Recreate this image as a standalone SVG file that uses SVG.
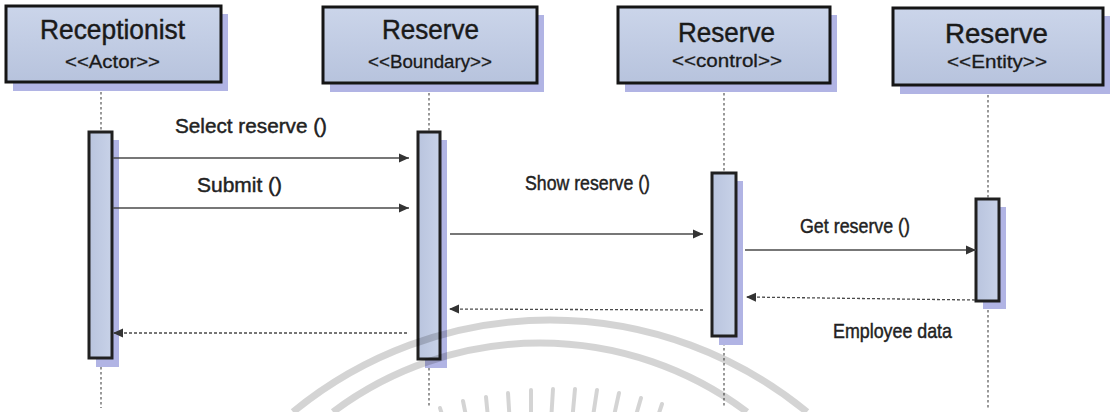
<svg xmlns="http://www.w3.org/2000/svg" width="1113" height="412" viewBox="0 0 1113 412">
  <defs>
    <linearGradient id="boxFill" x1="0" y1="0" x2="0" y2="1">
      <stop offset="0" stop-color="#cbd5ea"/>
      <stop offset="1" stop-color="#b7c3dd"/>
    </linearGradient>
    <linearGradient id="barFill" x1="0" y1="0" x2="1" y2="0">
      <stop offset="0" stop-color="#b9c4de"/>
      <stop offset="1" stop-color="#c8d2e8"/>
    </linearGradient>
    <marker id="arrow" markerUnits="userSpaceOnUse" markerWidth="10" markerHeight="10" viewBox="0 0 10 10" refX="10" refY="5" orient="auto">
      <path d="M0,0.5 L10,5 L0,9.5 z" fill="#333"/>
    </marker>
    <style>
      .shadow { fill: #b1b4e4; }
      .head { fill: url(#boxFill); stroke: #151515; stroke-width: 3; }
      .bar { fill: url(#barFill); stroke: #202020; stroke-width: 3; }
      .life { stroke: #555; stroke-width: 1.2; stroke-dasharray: 2.5 2.5; fill: none; }
      .call { stroke: #4a4a4a; stroke-width: 1.3; fill: none; marker-end: url(#arrow); }
      .reply { stroke: #4a4a4a; stroke-width: 1.3; fill: none; stroke-dasharray: 3 2; marker-end: url(#arrow); }
      text { font-family: "Liberation Sans", Arial, sans-serif; fill: #1a1a1a; stroke: #1a1a1a; stroke-width: 0.45; text-anchor: start; }
      .title { font-size: 27px; }
      .stereo { font-size: 18px; stroke-width: 0.3; }
      .msg { font-size: 21px; fill: #222; stroke: #222; }
      .mark { stroke: #000; stroke-opacity: 0.17; fill: none; }
    </style>
  </defs>

  <rect width="1113" height="412" fill="#ffffff"/>

  <!-- lifelines -->
  <g id="lifelines">
    <line class="life" x1="101" y1="82" x2="101" y2="408"/>
    <line class="life" x1="429" y1="83" x2="429" y2="408"/>
    <line class="life" x1="724" y1="83" x2="724" y2="408"/>
    <line class="life" x1="988" y1="85" x2="988" y2="410"/>
  </g>

  <!-- object heads with their activation bars -->
  <g id="receptionist">
    <rect class="shadow" x="13" y="14" width="215" height="77"/>
    <rect class="head" x="6" y="6" width="215" height="76"/>
    <text class="title" x="40" y="39" font-size="28" textLength="145" lengthAdjust="spacingAndGlyphs">Receptionist</text>
    <text class="stereo" x="65" y="68" textLength="95" lengthAdjust="spacingAndGlyphs">&lt;&lt;Actor&gt;&gt;</text>
    <rect class="shadow" x="96" y="140" width="23" height="227"/>
    <rect class="bar" x="89" y="132" width="23" height="226"/>
  </g>

  <g id="reserve-boundary">
    <rect class="shadow" x="330" y="15" width="214" height="77"/>
    <rect class="head" x="323" y="7" width="214" height="76"/>
    <text class="title" x="382" y="39" textLength="97" lengthAdjust="spacingAndGlyphs">Reserve</text>
    <text class="stereo" x="368" y="68" textLength="124" lengthAdjust="spacingAndGlyphs">&lt;&lt;Boundary&gt;&gt;</text>
    <rect class="shadow" x="425" y="140" width="22" height="228"/>
    <rect class="bar" x="418" y="132" width="22" height="227"/>
  </g>

  <g id="reserve-control">
    <rect class="shadow" x="625" y="15" width="212" height="77"/>
    <rect class="head" x="618" y="7" width="212" height="76"/>
    <text class="title" x="678" y="42" textLength="97" lengthAdjust="spacingAndGlyphs">Reserve</text>
    <text class="stereo" x="672" y="67" textLength="110" lengthAdjust="spacingAndGlyphs">&lt;&lt;control&gt;&gt;</text>
    <rect class="shadow" x="719" y="181" width="24" height="164"/>
    <rect class="bar" x="712" y="173" width="24" height="163"/>
  </g>

  <g id="reserve-entity">
    <rect class="shadow" x="900" y="16" width="210" height="78"/>
    <rect class="head" x="893" y="8" width="210" height="77"/>
    <text class="title" x="945" y="43" textLength="103" lengthAdjust="spacingAndGlyphs">Reserve</text>
    <text class="stereo" x="947" y="68" textLength="100" lengthAdjust="spacingAndGlyphs">&lt;&lt;Entity&gt;&gt;</text>
    <rect class="shadow" x="983" y="207" width="23" height="102"/>
    <rect class="bar" x="976" y="199" width="23" height="102"/>
  </g>

  <!-- messages -->
  <g id="connectors">
    <line class="call" x1="113" y1="158" x2="409" y2="158"/>
    <line class="call" x1="113" y1="208" x2="409" y2="208"/>
    <line class="call" x1="450" y1="234" x2="703" y2="234"/>
    <line class="call" x1="745" y1="250" x2="976" y2="250"/>
    <line class="reply" x1="975" y1="300" x2="746" y2="297"/>
    <line class="reply" x1="703" y1="310" x2="449" y2="309"/>
    <line class="reply" x1="407" y1="333" x2="113" y2="333"/>

    <text class="msg" x="175" y="133" font-size="22" textLength="152" lengthAdjust="spacingAndGlyphs">Select reserve ()</text>
    <text class="msg" x="197" y="192" textLength="85" lengthAdjust="spacingAndGlyphs">Submit ()</text>
    <text class="msg" x="525" y="190" font-size="20" textLength="125" lengthAdjust="spacingAndGlyphs">Show reserve ()</text>
    <text class="msg" x="800" y="233" font-size="19" textLength="110" lengthAdjust="spacingAndGlyphs">Get reserve ()</text>
    <text class="msg" x="833" y="338" font-size="19" textLength="119" lengthAdjust="spacingAndGlyphs">Employee data</text>
  </g>

  <!-- faint seal printed over the lower part of the page -->
  <g id="seal">
    <path class="mark" stroke-width="7" d="M293,412 A405,405 0 0 1 807,412"/>
    <path class="mark" stroke-width="7" d="M333,412 A345,345 0 0 1 747,412"/>
    <g class="mark" stroke-width="4" stroke-linecap="round">
      <line x1="449" y1="437" x2="440" y2="408"/>
      <line x1="469" y1="431" x2="463" y2="401"/>
      <line x1="489" y1="428" x2="486" y2="397"/>
      <line x1="510" y1="425" x2="508" y2="393"/>
      <line x1="531" y1="423" x2="531" y2="390"/>
      <line x1="551" y1="422" x2="553" y2="389"/>
      <line x1="572" y1="422" x2="575" y2="389"/>
      <line x1="592" y1="423" x2="597" y2="390"/>
      <line x1="612" y1="425" x2="619" y2="393"/>
      <line x1="632" y1="429" x2="641" y2="398"/>
      <line x1="652" y1="434" x2="662" y2="404"/>
    </g>
  </g>
</svg>
